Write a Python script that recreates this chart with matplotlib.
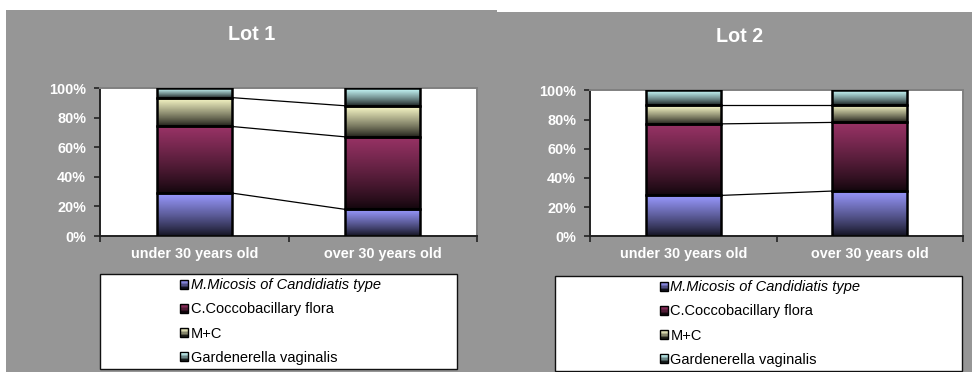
import numpy as np
import matplotlib
matplotlib.use("Agg")
import matplotlib.pyplot as plt
from matplotlib.patches import Rectangle
from matplotlib.legend_handler import HandlerBase
from matplotlib.colors import to_rgb

plt.rcParams['font.family'] = ['Liberation Sans', 'DejaVu Sans']

categories = ["under 30 years old", "over 30 years old"]
series_names = ["M.Micosis of Candidiatis type", "C.Coccobacillary flora",
                "M+C", "Gardenerella vaginalis"]
series_colors = ["#9999FF", "#993366", "#FFFFCC", "#CCFFFF"]

# percentages per series, [under 30, over 30]
lot1_micosis = [29, 18]
lot1_cocco = [45, 49]
lot1_mc = [19.5, 21]
lot1_gard = [6.5, 12]

lot2_micosis = [28, 31]
lot2_cocco = [49, 47]
lot2_mc = [13, 12]
lot2_gard = [10, 10]

y_ticks = [0, 20, 40, 60, 80, 100]
y_tick_labels = ["0%", "20%", "40%", "60%", "80%", "100%"]

W, H = 972, 372
fig = plt.figure(figsize=(W / 100, H / 100), dpi=100)
fig.patch.set_facecolor("white")

GRAY = "#969696"
fig.patches.append(Rectangle((6 / W, 0), (497 - 6) / W, (H - 10) / H,
                             transform=fig.transFigure, facecolor=GRAY,
                             edgecolor="none", zorder=-2))
fig.patches.append(Rectangle((497 / W, 0), (W - 497) / W, (H - 12) / H,
                             transform=fig.transFigure, facecolor=GRAY,
                             edgecolor="none", zorder=-2))


def gradient(color, n=64):
    c = np.array(to_rgb(color))
    dark = c * 0.12
    t = np.linspace(0, 1, n)[:, None]  # 0 bottom -> 1 top
    t = t ** 0.85
    arr = dark + (c - dark) * t
    return arr[:, None, :]


class GradHandler(HandlerBase):
    def __init__(self, color):
        super().__init__()
        self.color = color

    def create_artists(self, legend, orig_handle, xdescent, ydescent,
                       width, height, fontsize, trans):
        arts = []
        n = 6
        g = gradient(self.color, n)[:, 0, :]
        for i in range(n):
            r = Rectangle((-xdescent, -ydescent + height * i / n), width,
                          height / n, facecolor=g[i], edgecolor="none",
                          transform=trans)
            arts.append(r)
        arts.append(Rectangle((-xdescent, -ydescent), width, height,
                              facecolor="none", edgecolor="black",
                              linewidth=1.0, transform=trans))
        return arts


def draw_panel(rect, title, title_xy, data, legend_box):
    ax = fig.add_axes(rect)
    ax.set_facecolor("white")
    x = np.arange(len(categories))
    width = 0.4
    bottoms = np.zeros(len(categories))
    tops = []
    for vals, col in zip(data, series_colors):
        vals = np.array(vals, dtype=float)
        bars = ax.bar(x, vals, width, bottom=bottoms, facecolor="none",
                      edgecolor="black", linewidth=1.8, zorder=3)
        for p in bars:
            bx, by, bw, bh = p.get_x(), p.get_y(), p.get_width(), p.get_height()
            im = ax.imshow(gradient(col), extent=[bx, bx + bw, by, by + bh],
                           origin="lower", aspect="auto", zorder=2,
                           interpolation="bilinear")
            im.set_clip_path(p)
        bottoms = bottoms + vals
        tops.append(bottoms.copy())
    # series lines
    for t in tops[:-1]:
        ax.plot([x[0] + width / 2, x[1] - width / 2], [t[0], t[1]],
                color="black", linewidth=0.9, zorder=1)
    ax.set_xlim(-0.5, 1.5)
    ax.set_ylim(0, 100)
    ax.set_yticks(y_ticks)
    ax.set_yticklabels(y_tick_labels)
    ax.set_xticks(x)
    ax.set_xticklabels(categories)
    ax.set_xticks([-0.5, 0.5, 1.5], minor=True)
    ax.tick_params(axis="x", which="major", length=0, pad=8,
                   labelsize=10.4, labelcolor="white")
    ax.tick_params(axis="x", which="minor", length=4, width=1.2,
                   direction="out", color="#222222")
    ax.tick_params(axis="y", length=4, width=1.2, direction="out",
                   color="#222222", pad=6, labelsize=10.4, labelcolor="white")
    for lab in ax.get_xticklabels() + ax.get_yticklabels():
        lab.set_fontweight("bold")
    for s in ["left", "bottom"]:
        ax.spines[s].set_color("#222222")
        ax.spines[s].set_linewidth(1.4)
    for s in ["top", "right"]:
        ax.spines[s].set_color("#808080")
        ax.spines[s].set_linewidth(1.4)

    fig.text(title_xy[0] / W, 1 - title_xy[1] / H, title, ha="center",
             va="center", color="white", fontsize=14.2, fontweight="bold")

    lx0, ly0, lx1, ly1 = legend_box
    fig.patches.append(Rectangle((lx0 / W, 1 - ly1 / H), (lx1 - lx0) / W,
                                 (ly1 - ly0) / H, transform=fig.transFigure,
                                 facecolor="white", edgecolor="#111111",
                                 linewidth=1.0, zorder=1))
    handles = [Rectangle((0, 0), 1, 1) for _ in series_names]
    hmap = {h: GradHandler(c) for h, c in zip(handles, series_colors)}
    leg = fig.legend(handles, series_names, handler_map=hmap, loc="center",
                     bbox_to_anchor=((lx0 + lx1) / 2 / W + 2 / W,
                                     1 - (ly0 + ly1) / 2 / H),
                     bbox_transform=fig.transFigure, frameon=False,
                     fontsize=10.5, handlelength=0.55, handleheight=0.55,
                     handletextpad=0.2, labelspacing=0.69, borderpad=0)
    leg.set_zorder(5)
    leg.get_texts()[0].set_fontstyle("italic")
    return ax


draw_panel([100 / W, 1 - 236 / H, 377 / W, 148 / H], "Lot 1", (252, 34),
           [lot1_micosis, lot1_cocco, lot1_mc, lot1_gard],
           (100, 274, 457, 369))
draw_panel([590 / W, 1 - 236.3 / H, 373 / W, 146 / H], "Lot 2", (740, 37),
           [lot2_micosis, lot2_cocco, lot2_mc, lot2_gard],
           (554.5, 276, 961.5, 371))

fig.savefig("out.png", dpi=100)
